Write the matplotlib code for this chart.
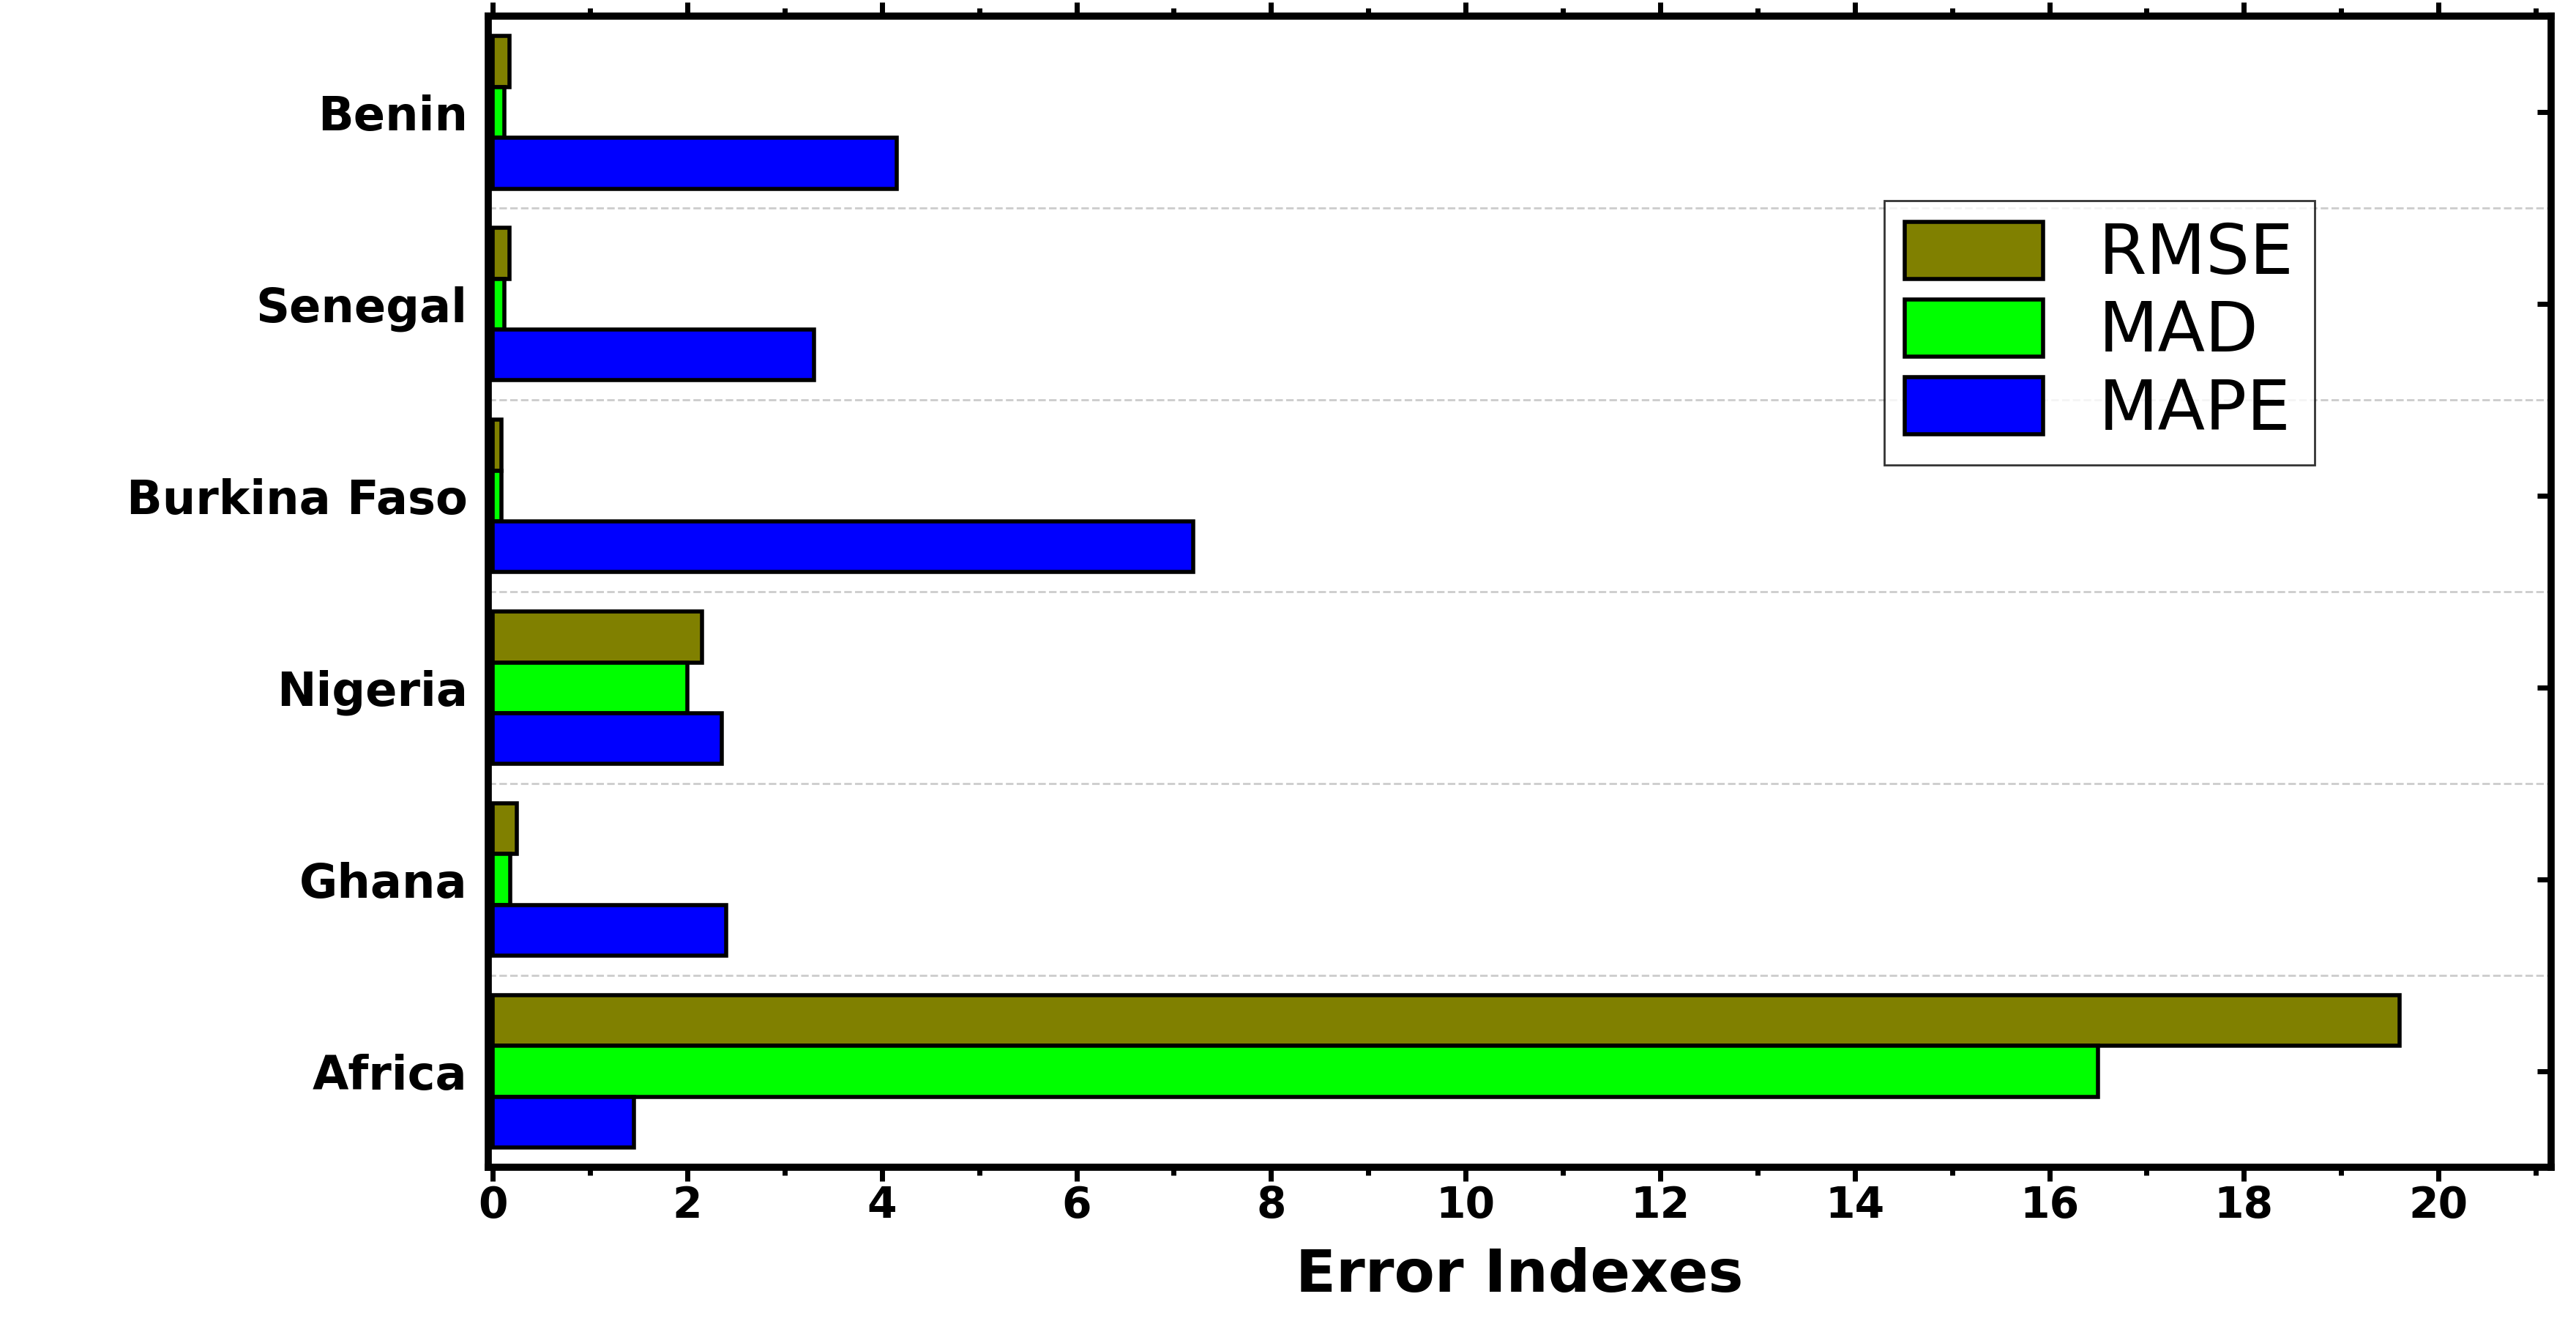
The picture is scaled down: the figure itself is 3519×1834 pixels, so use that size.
import matplotlib.pyplot as plt
import numpy as np
from matplotlib.ticker import MultipleLocator

countries = ["Africa", "Ghana", "Nigeria", "Burkina Faso", "Senegal", "Benin"]
rmse = [19.6, 0.25, 2.15, 0.09, 0.17, 0.17]
mad = [16.5, 0.18, 2.0, 0.09, 0.12, 0.12]
mape = [1.45, 2.4, 2.35, 7.2, 3.3, 4.15]

plt.rcParams['font.family'] = ['DejaVu Sans']
fig = plt.figure(figsize=(35.19, 18.34), dpi=100)
ax = fig.add_axes([297 / 1568, 1 - 711 / 818, (1553 - 297) / 1568, (711 - 10) / 818])

y = np.arange(len(countries))
h = 0.265
kw = dict(height=h, edgecolor='black', linewidth=4, zorder=3)
ax.barh(y + h, rmse, color='#808000', label='RMSE', **kw)
ax.barh(y, mad, color='#00ff00', label='MAD', **kw)
ax.barh(y - h, mape, color='#0000ff', label='MAPE', **kw)

ax.set_xlim(-0.05, 21.16)
ax.set_ylim(-0.5, len(countries) - 0.5)
ax.set_yticks(y)
ax.set_yticklabels(countries, fontsize=46, fontweight='bold')
ax.xaxis.set_major_locator(MultipleLocator(2))
ax.xaxis.set_minor_locator(MultipleLocator(1))
ax.tick_params(axis='x', labelsize=42, width=5, length=14, direction='out', top=True)
ax.tick_params(axis='x', which='minor', width=5, length=8, direction='out', top=True)
ax.tick_params(axis='y', width=5, length=14, direction='in', right=True, left=False, pad=20)
for lab in ax.get_xticklabels():
    lab.set_fontweight('bold')
ax.set_xlabel('Error Indexes', fontsize=58, fontweight='bold', labelpad=20)

for yy in y[:-1] + 0.5:
    ax.axhline(yy, color='#cccccc', linestyle='--', linewidth=2, zorder=1)
for s in ax.spines.values():
    s.set_linewidth(7)

leg = ax.legend(loc='upper right', bbox_to_anchor=(0.902, 0.87), fontsize=68,
                frameon=True, fancybox=False, edgecolor='black', handlelength=2.0, handleheight=0.9,
                borderpad=0.3, labelspacing=0.15)
leg.get_frame().set_linewidth(2)

fig.savefig('out.png', dpi=100)
